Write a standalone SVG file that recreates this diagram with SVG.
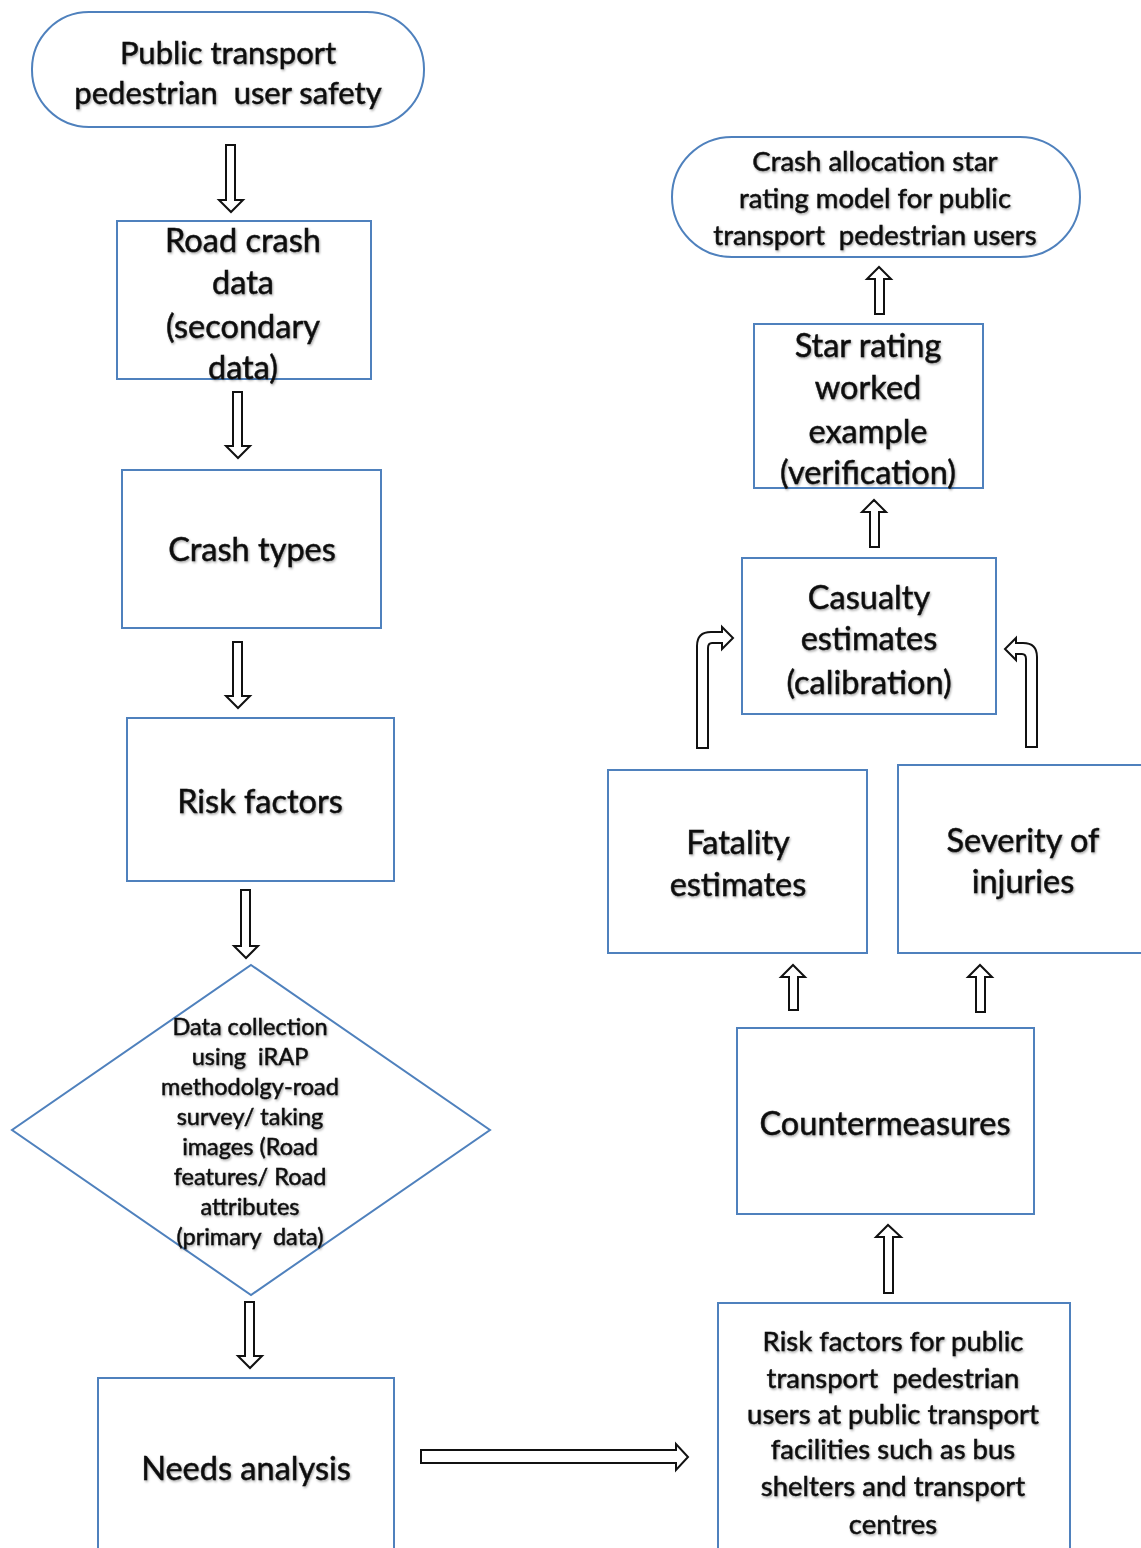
<svg xmlns="http://www.w3.org/2000/svg" width="1141" height="1548" viewBox="0 0 1141 1548">
  <defs>
    <filter id="soft" x="-10%" y="-30%" width="120%" height="160%">
      <feDropShadow dx="1" dy="1.5" stdDeviation="1.2" flood-color="#000" flood-opacity="0.35"/>
    </filter>
    <style>
      .box { fill: #fff; stroke: #4f81bd; stroke-width: 2; }
      .arrow { fill: #fff; stroke: #111; stroke-width: 2; stroke-linejoin: miter; }
      text { font-family: Lato, "Open Sans", "Liberation Sans", sans-serif; fill: #111; stroke: #111; stroke-width: 0.5; text-anchor: middle; dominant-baseline: central; filter: url(#soft); white-space: pre; }
      .t32 { font-size: 32.5px; }
      .t30 { font-size: 31px; }
      .t27 { font-size: 27.5px; }
      .t22 { font-size: 23.5px; }
    </style>
  </defs>
  <rect width="1141" height="1548" fill="#fff"/>

  <!-- connectors -->
  <g id="connectors">
    <path class="arrow" d="M226,145 L235,145 L235,200 L243,200 L231,212 L219,200 L226,200 Z"/>
    <path class="arrow" d="M233,392 L242,392 L242,446 L250,446 L238,458 L226,446 L233,446 Z"/>
    <path class="arrow" d="M233,642 L242,642 L242,696 L250,696 L238,708 L226,696 L233,696 Z"/>
    <path class="arrow" d="M241,890 L250,890 L250,946 L258,946 L246,958 L234,946 L241,946 Z"/>
    <path class="arrow" d="M245,1302 L254,1302 L254,1356 L262,1356 L250,1368 L238,1356 L245,1356 Z"/>
    <path class="arrow" d="M421,1450 L676,1450 L676,1444 L688,1457 L676,1470 L676,1463 L421,1463 Z"/>
    <path class="arrow" d="M884,1293 L893,1293 L893,1237 L901,1237 L888,1225 L876,1237 L884,1237 Z"/>
    <path class="arrow" d="M789,1010 L798,1010 L798,977 L805,977 L793,965 L781,977 L789,977 Z"/>
    <path class="arrow" d="M976,1012 L985,1012 L985,977 L992,977 L980,965 L968,977 L976,977 Z"/>
    <path class="arrow" d="M697,748 L697,646 Q697,632 711,632 L722,632 L722,627 L733,638 L722,649 L722,643 L712,643 Q708,643 708,648 L708,748 Z"/>
    <path class="arrow" d="M1037,747 L1037,657 Q1037,643 1023,643 L1016,643 L1016,638 L1005,649 L1016,660 L1016,654 L1022,654 Q1026,654 1026,659 L1026,747 Z"/>
    <path class="arrow" d="M870,547 L879,547 L879,512 L886,512 L874,500 L862,512 L870,512 Z"/>
    <path class="arrow" d="M875,314 L884,314 L884,279 L891,279 L879,267 L867,279 L875,279 Z"/>
  </g>

  <!-- left column -->
  <g id="start">
    <rect class="box" x="32" y="12" width="392" height="115" rx="57" ry="57"/>
    <text class="t30" x="228" y="52">Public transport</text>
    <text class="t30" x="228" y="92">pedestrian  user safety</text>
  </g>
  <g id="road-crash-data">
    <rect class="box" x="117" y="221" width="254" height="158"/>
    <text class="t32" x="243" y="239">Road crash</text>
    <text class="t32" x="243" y="281">data</text>
    <text class="t32" x="243" y="325">(secondary</text>
    <text class="t32" x="243" y="366">data)</text>
  </g>
  <g id="crash-types">
    <rect class="box" x="122" y="470" width="259" height="158"/>
    <text class="t32" x="252" y="548">Crash types</text>
  </g>
  <g id="risk-factors">
    <rect class="box" x="127" y="718" width="267" height="163"/>
    <text class="t32" x="260" y="800">Risk factors</text>
  </g>
  <g id="data-collection">
    <polygon class="box" points="251,965 490,1130 251,1295 12,1130"/>
    <text class="t22" x="250" y="1026">Data collection</text>
    <text class="t22" x="250" y="1056">using  iRAP</text>
    <text class="t22" x="250" y="1086">methodolgy-road</text>
    <text class="t22" x="250" y="1116">survey/ taking</text>
    <text class="t22" x="250" y="1146">images (Road</text>
    <text class="t22" x="250" y="1176">features/ Road</text>
    <text class="t22" x="250" y="1206">attributes</text>
    <text class="t22" x="250" y="1236">(primary  data)</text>
  </g>
  <g id="needs-analysis">
    <rect class="box" x="98" y="1378" width="296" height="180"/>
    <text class="t32" x="246" y="1467">Needs analysis</text>
  </g>

  <!-- right column -->
  <g id="pt-risk-factors">
    <rect class="box" x="718" y="1303" width="352" height="255"/>
    <text class="t27" x="893" y="1340">Risk factors for public</text>
    <text class="t27" x="893" y="1377">transport  pedestrian</text>
    <text class="t27" x="893" y="1413">users at public transport</text>
    <text class="t27" x="893" y="1448">facilities such as bus</text>
    <text class="t27" x="893" y="1485">shelters and transport</text>
    <text class="t27" x="893" y="1523">centres</text>
  </g>
  <g id="countermeasures">
    <rect class="box" x="737" y="1028" width="297" height="186"/>
    <text class="t32" x="885" y="1122">Countermeasures</text>
  </g>
  <g id="fatality-estimates">
    <rect class="box" x="608" y="770" width="259" height="183"/>
    <text class="t32" x="738" y="841">Fatality</text>
    <text class="t32" x="738" y="883">estimates</text>
  </g>
  <g id="severity-of-injuries">
    <rect class="box" x="898" y="765" width="260" height="188"/>
    <text class="t32" x="1023" y="839">Severity of</text>
    <text class="t32" x="1023" y="880">injuries</text>
  </g>
  <g id="casualty-estimates">
    <rect class="box" x="742" y="558" width="254" height="156"/>
    <text class="t32" x="869" y="596">Casualty</text>
    <text class="t32" x="869" y="637">estimates</text>
    <text class="t32" x="869" y="681">(calibration)</text>
  </g>
  <g id="star-rating-example">
    <rect class="box" x="754" y="324" width="229" height="164"/>
    <text class="t32" x="868" y="344">Star rating</text>
    <text class="t32" x="868" y="386">worked</text>
    <text class="t32" x="868" y="430">example</text>
    <text class="t32" x="868" y="471">(verification)</text>
  </g>
  <g id="star-rating-model">
    <rect class="box" x="672" y="137" width="408" height="120" rx="60" ry="60"/>
    <text class="t27" x="875" y="160">Crash allocation star</text>
    <text class="t27" x="875" y="197">rating model for public</text>
    <text class="t27" x="875" y="234">transport  pedestrian users</text>
  </g>
</svg>
